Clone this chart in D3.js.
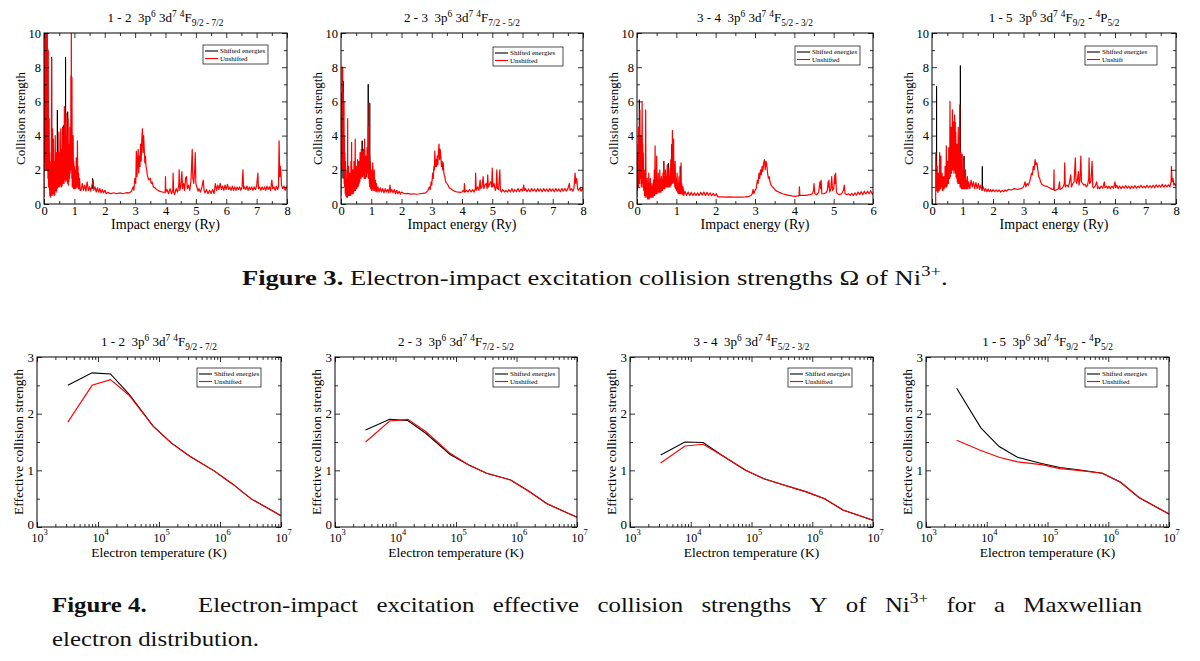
<!DOCTYPE html>
<html>
<head>
<meta charset="utf-8">
<script src="https://cdn.jsdelivr.net/npm/d3@7"></script>
<style>
  body { margin: 0; background: #fff; }
  svg { display: block; font-family: "Liberation Serif", "Times New Roman", serif; }
</style>
</head>
<body>
<svg id="svg" width="1200" height="661"></svg>
<script>
/* globals d3 */

// ---- Figure 3 : collision strength vs impact energy, [energy (Ry), omega] ----
// shifted series: only the parts that stand out from the unshifted curve (null = break)
var omega12Shifted = [[0.245,1],[0.25,8.6],[0.255,1],null,[0.435,1],[0.44,5.5],[0.445,1],null,[0.645,1.5],[0.65,4.6],[0.655,1.5],null,[0.705,1.5],[0.71,8.6],[0.715,1.5],null,[0.775,1.5],[0.78,5.4],[0.785,1.5],null,[1.595,0.9],[1.6,1.5],[1.605,0.9]];
var omega12Unshifted = [[0,0.4],[0.005,5],[0.01,2],[0.015,7],[0.02,3],[0.025,10],[0.03,2.5],[0.04,10],[0.045,4],[0.05,6],[0.055,2],[0.06,10],[0.07,3],[0.075,8],[0.08,2],[0.09,10],[0.095,3],[0.1,6],[0.105,2],[0.11,10],[0.12,2],[0.125,5],[0.13,1.5],[0.14,9],[0.15,1],[0.155,4],[0.16,1.2],[0.17,5],[0.18,0.8],[0.185,3],[0.19,0.5],[0.2,2.5],[0.21,0.4],[0.215,2],[0.22,0.6],[0.23,1.8],[0.24,0.5],[0.25,8.5],[0.26,0.8],[0.27,2.5],[0.275,0.6],[0.28,4.4],[0.29,0.5],[0.3,2],[0.305,0.6],[0.31,3.8],[0.32,0.7],[0.33,2.2],[0.34,0.6],[0.345,2.5],[0.35,0.5],[0.36,1.8],[0.37,4],[0.38,0.8],[0.39,2.2],[0.4,0.7],[0.41,3],[0.42,0.8],[0.43,2.5],[0.44,0.9],[0.45,3],[0.46,1],[0.47,2.5],[0.48,1],[0.49,4.2],[0.5,1],[0.51,2.5],[0.52,1],[0.53,3],[0.54,1.1],[0.55,4.4],[0.56,1.2],[0.57,2.8],[0.58,1],[0.59,3.2],[0.6,1.1],[0.61,4.5],[0.62,1.2],[0.63,2.8],[0.64,1.3],[0.65,3.5],[0.66,1.2],[0.67,5.7],[0.68,1.5],[0.69,3.5],[0.7,1.4],[0.71,4.8],[0.72,1.3],[0.73,5.3],[0.74,1.5],[0.75,3.2],[0.76,1.4],[0.77,4],[0.78,1.2],[0.79,5],[0.8,1.1],[0.81,3],[0.82,1.3],[0.83,3.5],[0.84,1.5],[0.85,4.5],[0.86,1.8],[0.87,3.5],[0.88,2],[0.885,7.5],[0.89,2],[0.9,10],[0.905,2],[0.91,6],[0.915,1.5],[0.92,7.4],[0.93,1],[0.94,3],[0.95,1],[0.96,4],[0.97,0.9],[0.98,2.5],[0.99,0.9],[1.0,2.2],[1.01,0.9],[1.02,2],[1.03,1],[1.04,1.8],[1.05,0.9],[1.06,2.7],[1.07,1],[1.08,2],[1.09,1],[1.1,3.7],[1.11,1],[1.12,2.2],[1.13,0.9],[1.14,1.8],[1.15,0.9],[1.17,1.5],[1.19,0.8],[1.22,0.8],[1.26,1.2],[1.3,0.8],[1.34,1.1],[1.38,0.75],[1.42,1.3],[1.46,0.8],[1.5,1.0],[1.54,0.75],[1.58,1.1],[1.62,1.4],[1.64,0.8],[1.68,1.0],[1.72,0.7],[1.76,0.95],[1.8,0.7],[1.84,0.9],[1.88,0.65],[1.92,0.85],[1.96,0.65],[2.0,0.8],[2.05,0.6],[2.1,0.68],[2.2,0.6],[2.3,0.66],[2.4,0.6],[2.5,0.65],[2.6,0.6],[2.7,0.66],[2.8,0.65],[2.88,0.75],[2.93,1.0],[2.96,0.8],[2.99,1.5],[3.02,1.2],[3.04,3.1],[3.06,1.6],[3.08,2.5],[3.1,3.2],[3.12,1.8],[3.14,2.8],[3.16,2.2],[3.18,3.5],[3.2,2.5],[3.22,3.8],[3.24,4.4],[3.26,3],[3.28,4.0],[3.3,3.2],[3.32,2.4],[3.34,2.8],[3.36,2.2],[3.38,2.0],[3.4,1.7],[3.43,1.5],[3.46,1.4],[3.5,1.5],[3.53,1.2],[3.56,1.3],[3.6,1.0],[3.65,0.95],[3.7,0.85],[3.75,0.8],[3.8,0.75],[3.85,0.72],[3.9,0.7],[3.95,0.68],[3.99,0.7],[4.0,1.6],[4.01,0.7],[4.05,0.85],[4.1,0.6],[4.15,0.9],[4.2,0.6],[4.24,0.8],[4.25,1.8],[4.27,0.7],[4.3,0.55],[4.35,0.9],[4.4,0.7],[4.44,1.2],[4.45,2.0],[4.47,0.8],[4.5,1.0],[4.54,1.9],[4.56,0.9],[4.6,1.2],[4.63,0.8],[4.66,1.5],[4.69,1.6],[4.72,0.9],[4.76,1.1],[4.8,0.8],[4.84,1.4],[4.88,3.2],[4.9,1.5],[4.93,1.2],[4.96,2.0],[4.98,3.0],[5.0,1.2],[5.03,1.0],[5.07,0.75],[5.1,0.9],[5.15,0.7],[5.2,1.0],[5.24,1.4],[5.27,0.8],[5.3,0.65],[5.35,0.85],[5.4,0.6],[5.45,0.8],[5.5,0.62],[5.55,0.85],[5.6,0.6],[5.64,1.2],[5.68,0.8],[5.72,1.1],[5.76,0.85],[5.8,1.2],[5.84,0.85],[5.88,1.05],[5.92,0.8],[5.96,1.1],[6.0,0.85],[6.04,1.15],[6.08,0.85],[6.12,1.0],[6.16,0.8],[6.2,1.05],[6.24,0.8],[6.28,1.0],[6.32,0.8],[6.36,1.0],[6.4,0.85],[6.44,1.0],[6.48,0.8],[6.52,1.0],[6.55,2.0],[6.57,0.9],[6.6,1.0],[6.64,0.85],[6.68,1.05],[6.72,0.8],[6.76,1.0],[6.8,0.85],[6.84,1.0],[6.88,0.8],[6.92,1.0],[6.96,0.85],[7.0,1.05],[7.04,1.8],[7.06,0.9],[7.1,1.0],[7.14,0.8],[7.18,1.0],[7.22,0.85],[7.26,1.0],[7.3,0.8],[7.34,1.05],[7.38,0.85],[7.42,1.0],[7.46,0.8],[7.5,1.4],[7.53,0.9],[7.57,1.0],[7.61,0.8],[7.65,1.05],[7.69,0.85],[7.72,1.0],[7.74,3.7],[7.76,1.6],[7.78,2.2],[7.8,1.8],[7.82,1.1],[7.86,0.9],[7.9,1.05],[7.94,0.8],[7.98,1.0],[8.0,0.9]];

var omega23Shifted = [[0.065,1.5],[0.07,7.2],[0.075,1.5],null,[0.695,1.6],[0.7,3.7],[0.705,1.6],null,[0.735,1.7],[0.74,3.2],[0.745,1.7],null,[0.895,1.8],[0.9,7.0],[0.905,1.5],null,[0.945,1.2],[0.95,5.9],[0.955,1.0]];
var omega23Unshifted = [[0,0.5],[0.005,4],[0.01,1.5],[0.015,6.5],[0.02,2],[0.025,5],[0.03,2.5],[0.035,8],[0.04,3],[0.045,6],[0.05,2],[0.055,8],[0.06,3],[0.065,5],[0.07,2.5],[0.075,6.5],[0.08,2],[0.085,5],[0.09,1.5],[0.1,6],[0.105,1.2],[0.11,4],[0.12,1],[0.13,3],[0.14,0.6],[0.15,2.5],[0.16,0.5],[0.17,2],[0.18,0.4],[0.19,1.5],[0.2,0.5],[0.21,1.2],[0.215,0.4],[0.22,5],[0.225,0.5],[0.23,1.5],[0.24,0.5],[0.25,2.2],[0.26,0.5],[0.27,1.5],[0.28,0.5],[0.29,1.8],[0.3,0.5],[0.31,1.4],[0.32,0.5],[0.33,2.5],[0.34,0.6],[0.35,3.6],[0.36,0.7],[0.37,1.6],[0.38,0.6],[0.39,2],[0.4,0.6],[0.41,1.5],[0.42,0.7],[0.43,2.5],[0.44,0.8],[0.45,1.8],[0.46,0.8],[0.47,3.8],[0.48,0.8],[0.49,1.8],[0.5,0.9],[0.51,2.2],[0.52,0.9],[0.53,1.8],[0.54,1.0],[0.55,2.6],[0.56,1.0],[0.57,2.0],[0.58,1.1],[0.59,2.5],[0.6,1.2],[0.61,2.2],[0.62,1.3],[0.63,3.0],[0.64,1.5],[0.65,2.5],[0.66,1.5],[0.67,3.2],[0.68,1.6],[0.69,2.8],[0.7,1.6],[0.71,3.1],[0.72,1.8],[0.73,2.7],[0.74,1.7],[0.75,3.2],[0.76,1.5],[0.77,2.6],[0.78,3.8],[0.79,1.5],[0.8,2.4],[0.81,1.5],[0.82,2.8],[0.83,1.6],[0.84,2.5],[0.85,1.6],[0.86,3.3],[0.87,2],[0.88,2.8],[0.89,1.8],[0.9,4.5],[0.91,1.5],[0.92,3],[0.93,5.9],[0.94,1.2],[0.95,2.8],[0.96,1.0],[0.97,2.5],[0.98,0.9],[0.99,1.6],[1.0,2.0],[1.01,0.8],[1.02,1.5],[1.03,0.8],[1.04,1.8],[1.05,2.4],[1.06,0.9],[1.07,1.5],[1.08,0.8],[1.09,1.6],[1.1,2.0],[1.11,0.8],[1.12,1.3],[1.13,0.8],[1.14,1.4],[1.15,0.75],[1.17,1.2],[1.19,0.7],[1.22,1.0],[1.26,0.7],[1.3,0.95],[1.34,0.7],[1.38,0.9],[1.42,0.65],[1.46,0.9],[1.5,0.7],[1.54,0.85],[1.58,0.65],[1.62,1.1],[1.64,0.7],[1.68,0.85],[1.72,0.65],[1.76,0.85],[1.8,0.6],[1.84,0.8],[1.88,0.6],[1.92,0.75],[1.96,0.58],[2.0,0.7],[2.1,0.6],[2.2,0.62],[2.3,0.58],[2.4,0.6],[2.5,0.57],[2.6,0.6],[2.7,0.62],[2.8,0.65],[2.88,0.8],[2.92,1.0],[2.95,0.85],[2.98,1.3],[3.0,1.1],[3.03,1.8],[3.05,1.5],[3.07,2.2],[3.09,2.0],[3.1,3.1],[3.12,2.2],[3.14,2.6],[3.16,2.2],[3.18,2.8],[3.2,2.3],[3.22,3.0],[3.24,3.5],[3.26,2.6],[3.28,3.2],[3.3,2.8],[3.32,2.2],[3.34,2.5],[3.36,2.0],[3.38,2.4],[3.4,1.8],[3.43,1.6],[3.46,1.3],[3.5,1.2],[3.54,1.1],[3.58,0.95],[3.62,0.9],[3.66,0.85],[3.7,0.8],[3.75,0.75],[3.8,0.72],[3.85,0.7],[3.9,0.7],[3.95,0.68],[4.0,0.7],[4.04,0.8],[4.07,0.7],[4.08,1.2],[4.1,0.7],[4.15,0.8],[4.2,0.7],[4.25,0.85],[4.3,0.7],[4.35,0.85],[4.4,0.7],[4.44,0.9],[4.45,1.8],[4.47,0.8],[4.52,1.0],[4.56,0.8],[4.6,1.4],[4.62,0.9],[4.66,1.0],[4.7,1.6],[4.72,0.9],[4.76,1.1],[4.8,1.2],[4.83,0.9],[4.85,1.7],[4.87,1.0],[4.92,1.2],[4.95,1.3],[4.98,1.0],[5.0,2.1],[5.02,1.0],[5.06,1.2],[5.1,0.8],[5.13,1.0],[5.15,2.0],[5.17,0.9],[5.21,0.85],[5.25,2.0],[5.27,0.8],[5.3,0.7],[5.35,0.85],[5.4,0.7],[5.45,0.8],[5.5,0.7],[5.55,0.85],[5.6,0.7],[5.65,0.9],[5.7,0.7],[5.75,0.85],[5.8,0.72],[5.85,0.9],[5.9,0.72],[5.95,0.88],[6.0,0.75],[6.04,1.1],[6.06,0.8],[6.1,0.9],[6.15,0.72],[6.2,0.88],[6.25,0.72],[6.3,0.9],[6.35,0.75],[6.4,0.88],[6.45,0.72],[6.5,0.9],[6.55,0.75],[6.6,0.88],[6.65,0.72],[6.7,0.9],[6.75,0.75],[6.8,0.88],[6.85,0.72],[6.9,0.9],[6.95,0.75],[7.0,0.88],[7.05,0.72],[7.1,0.9],[7.15,0.75],[7.2,0.88],[7.25,0.72],[7.3,0.9],[7.35,0.75],[7.4,0.9],[7.45,0.75],[7.5,0.9],[7.55,1.2],[7.57,0.8],[7.62,0.9],[7.66,0.75],[7.7,0.9],[7.74,1.8],[7.76,1.2],[7.78,1.5],[7.8,1.4],[7.82,0.9],[7.86,0.8],[7.9,0.95],[7.94,0.75],[7.98,0.9],[8.0,0.85]];

var omega34Shifted = [[0.055,1.5],[0.06,6.1],[0.065,1.5],null,[0.675,0.9],[0.68,2.5],[0.685,0.9],null,[0.795,1.0],[0.8,2.4],[0.805,1.0],null,[0.885,1.2],[0.89,3.5],[0.895,1.2],null,[1.095,0.8],[1.1,2.2],[1.105,0.8]];
var omega34Unshifted = [[0,0.4],[0.005,2],[0.01,0.8],[0.015,3],[0.02,1],[0.025,3.5],[0.03,1.2],[0.035,4.5],[0.04,1],[0.045,3],[0.05,1.5],[0.055,4.5],[0.06,1.5],[0.065,3.5],[0.07,1.2],[0.075,5.5],[0.08,2],[0.085,4],[0.09,1.5],[0.095,3.5],[0.1,1.5],[0.105,4],[0.11,1],[0.115,3.5],[0.12,1.2],[0.13,6.0],[0.14,2],[0.145,3.5],[0.15,1],[0.16,3],[0.17,0.8],[0.18,2],[0.19,0.5],[0.2,1.5],[0.21,0.4],[0.22,5.5],[0.23,0.5],[0.24,1.2],[0.25,0.4],[0.26,1.5],[0.27,0.3],[0.28,1.2],[0.29,0.3],[0.3,1.8],[0.31,0.3],[0.32,1.2],[0.33,0.4],[0.34,1.5],[0.35,0.4],[0.36,1.0],[0.37,0.4],[0.38,1.2],[0.39,0.4],[0.4,1.0],[0.41,0.4],[0.42,1.4],[0.43,0.5],[0.44,2],[0.45,0.5],[0.46,3.4],[0.47,0.6],[0.48,1.5],[0.49,0.6],[0.5,2.8],[0.51,0.6],[0.52,1.4],[0.53,0.7],[0.54,1.8],[0.55,0.7],[0.56,1.3],[0.57,0.7],[0.58,2],[0.59,0.7],[0.6,1.4],[0.61,0.7],[0.62,1.6],[0.63,0.8],[0.64,1.4],[0.65,0.8],[0.66,1.8],[0.67,0.9],[0.68,2.5],[0.69,0.9],[0.7,1.6],[0.71,0.9],[0.72,2.0],[0.73,1.0],[0.74,1.6],[0.75,1.0],[0.76,1.8],[0.77,2.3],[0.78,1.0],[0.79,1.7],[0.8,1.0],[0.81,2.1],[0.82,1.0],[0.83,1.6],[0.84,1.0],[0.85,1.8],[0.86,2.6],[0.87,1.1],[0.88,2],[0.89,1.2],[0.9,4.3],[0.91,1.3],[0.92,3],[0.93,3.8],[0.94,1.2],[0.95,2.2],[0.96,1.0],[0.97,2.5],[0.98,0.9],[0.99,1.5],[1.0,0.8],[1.01,1.4],[1.02,1.8],[1.03,0.7],[1.04,1.2],[1.05,0.6],[1.06,1.3],[1.07,1.6],[1.08,0.6],[1.09,1.2],[1.1,0.6],[1.11,1.5],[1.12,2.4],[1.13,0.6],[1.14,1.2],[1.15,0.55],[1.17,1.0],[1.19,0.5],[1.22,0.75],[1.26,0.5],[1.3,0.7],[1.34,0.5],[1.38,0.68],[1.42,0.5],[1.46,0.65],[1.5,0.5],[1.54,0.65],[1.58,0.5],[1.62,0.68],[1.66,0.52],[1.7,0.7],[1.74,0.5],[1.78,0.68],[1.82,0.5],[1.86,0.65],[1.9,0.48],[1.94,0.62],[1.98,0.48],[2.02,0.6],[2.05,0.42],[2.15,0.42],[2.25,0.4],[2.35,0.42],[2.45,0.4],[2.55,0.41],[2.65,0.4],[2.75,0.42],[2.85,0.45],[2.9,0.5],[2.93,0.6],[2.95,0.85],[2.97,0.6],[3.0,0.8],[3.03,0.9],[3.06,1.4],[3.08,1.2],[3.1,1.8],[3.12,1.5],[3.14,2.0],[3.16,1.7],[3.18,2.2],[3.2,1.9],[3.22,2.4],[3.24,2.6],[3.26,2.0],[3.28,2.5],[3.3,2.3],[3.32,1.8],[3.34,1.5],[3.36,1.6],[3.38,1.3],[3.41,1.1],[3.44,1.0],[3.47,0.95],[3.5,0.85],[3.55,0.75],[3.6,0.7],[3.65,0.65],[3.7,0.6],[3.78,0.55],[3.86,0.5],[3.94,0.47],[4.02,0.45],[4.1,0.47],[4.12,0.5],[4.13,1.0],[4.14,0.5],[4.2,0.5],[4.3,0.5],[4.4,0.55],[4.46,0.6],[4.49,0.8],[4.5,1.2],[4.52,0.6],[4.57,0.55],[4.62,0.7],[4.65,1.3],[4.67,0.9],[4.68,1.4],[4.7,0.6],[4.75,0.6],[4.8,0.65],[4.84,0.8],[4.86,1.3],[4.87,1.0],[4.88,1.4],[4.9,0.7],[4.93,0.9],[4.95,1.6],[4.97,0.8],[5.0,0.9],[5.03,1.7],[5.04,1.2],[5.05,1.8],[5.07,0.7],[5.1,0.6],[5.15,0.55],[5.2,0.6],[5.25,0.8],[5.27,1.1],[5.29,0.6],[5.33,0.55],[5.38,0.6],[5.42,0.5],[5.46,0.62],[5.5,0.5],[5.54,0.65],[5.58,0.52],[5.62,0.7],[5.66,0.55],[5.7,0.72],[5.74,0.55],[5.78,0.75],[5.82,0.58],[5.86,0.75],[5.9,0.6],[5.94,0.78],[5.98,0.58],[6.0,0.65]];

var omega15Shifted = [[0.145,0.8],[0.15,6.9],[0.155,0.8],null,[0.745,2],[0.75,4.8],[0.755,2],null,[0.925,1.2],[0.93,8.1],[0.935,1.2],null,[1.045,1.0],[1.05,2.8],[1.055,1.0],null,[1.645,0.8],[1.65,2.2],[1.655,0.8]];
var omega15Unshifted = [[0.12,0],[0.122,3],[0.125,1],[0.13,2.5],[0.135,0.8],[0.14,2],[0.145,0.8],[0.15,1.5],[0.16,0.8],[0.17,2.2],[0.18,0.7],[0.19,1.5],[0.2,0.7],[0.21,1.8],[0.22,0.8],[0.23,1.5],[0.24,0.8],[0.25,3.0],[0.26,0.9],[0.27,1.6],[0.28,0.9],[0.29,2.8],[0.3,1],[0.31,1.5],[0.32,1],[0.33,1.8],[0.34,0.8],[0.35,1.4],[0.36,0.8],[0.37,1.6],[0.38,0.9],[0.39,1.3],[0.4,0.9],[0.41,1.6],[0.42,1.0],[0.43,2.2],[0.44,1.0],[0.45,1.8],[0.46,1.0],[0.47,3.4],[0.48,1.0],[0.49,2.0],[0.5,1.1],[0.51,2.5],[0.52,1.2],[0.53,2.2],[0.54,1.2],[0.55,3.3],[0.56,1.5],[0.57,2.8],[0.58,1.5],[0.59,6.0],[0.6,1.6],[0.61,3.5],[0.62,1.8],[0.63,4.5],[0.64,1.8],[0.65,3.8],[0.66,2],[0.67,5.5],[0.68,2],[0.69,4.0],[0.7,2.0],[0.71,4.8],[0.72,1.8],[0.73,3.8],[0.74,5.2],[0.75,2],[0.76,3.5],[0.77,1.8],[0.78,4.2],[0.79,1.6],[0.8,3.0],[0.81,1.5],[0.82,3.5],[0.83,1.3],[0.84,2.8],[0.85,1.2],[0.86,4.5],[0.87,1.2],[0.88,2.5],[0.89,1.2],[0.9,3.5],[0.91,5.8],[0.92,1.0],[0.93,2.5],[0.94,1.0],[0.95,3],[0.96,0.9],[0.97,2.0],[0.98,0.9],[0.99,2.9],[1.0,0.9],[1.01,1.8],[1.02,0.9],[1.03,1.6],[1.04,2.5],[1.05,0.9],[1.06,1.5],[1.07,0.9],[1.08,1.4],[1.09,0.9],[1.1,2.0],[1.11,0.9],[1.12,1.4],[1.14,0.9],[1.16,1.6],[1.18,0.9],[1.2,1.3],[1.24,0.9],[1.28,1.4],[1.32,1.0],[1.36,1.3],[1.4,0.9],[1.44,1.25],[1.48,0.9],[1.52,1.2],[1.56,0.85],[1.6,1.1],[1.64,0.8],[1.68,1.0],[1.72,0.75],[1.76,0.9],[1.8,0.72],[1.84,0.88],[1.88,0.72],[1.92,0.85],[1.96,0.72],[2.0,0.85],[2.05,0.72],[2.1,0.82],[2.15,0.72],[2.2,0.82],[2.25,0.7],[2.3,0.8],[2.35,0.72],[2.4,0.82],[2.45,0.75],[2.5,0.85],[2.6,0.82],[2.7,0.9],[2.8,0.85],[2.9,0.9],[2.98,0.95],[3.02,1.1],[3.05,1.3],[3.08,1.0],[3.12,1.2],[3.16,1.1],[3.2,1.3],[3.23,1.5],[3.26,1.8],[3.29,1.7],[3.32,2.2],[3.35,2.0],[3.38,2.6],[3.41,2.3],[3.44,2.4],[3.47,2.0],[3.5,1.6],[3.53,1.5],[3.56,1.3],[3.6,1.15],[3.65,1.1],[3.7,1.05],[3.75,1.05],[3.8,1.0],[3.85,0.95],[3.9,0.9],[3.95,0.85],[3.99,0.85],[4.0,2.0],[4.01,0.8],[4.05,0.8],[4.1,0.85],[4.15,0.9],[4.18,1.3],[4.2,0.85],[4.25,0.9],[4.3,1.0],[4.34,1.2],[4.35,2.4],[4.37,1.0],[4.42,1.1],[4.47,1.0],[4.5,1.2],[4.55,1.7],[4.57,1.0],[4.62,1.2],[4.66,1.3],[4.7,2.7],[4.72,1.3],[4.75,1.2],[4.8,1.9],[4.82,1.1],[4.85,1.4],[4.88,2.8],[4.9,1.3],[4.94,1.2],[4.98,1.1],[5.02,1.15],[5.06,1.0],[5.1,1.1],[5.14,1.5],[5.15,2.7],[5.17,1.2],[5.21,1.3],[5.25,2.5],[5.27,1.0],[5.3,0.95],[5.35,1.05],[5.4,1.3],[5.43,0.9],[5.47,1.0],[5.5,0.9],[5.55,1.05],[5.6,0.92],[5.65,1.3],[5.67,0.95],[5.72,1.05],[5.76,0.9],[5.8,1.05],[5.85,0.9],[5.9,1.05],[5.95,0.92],[6.0,1.3],[6.02,0.95],[6.06,1.1],[6.1,0.9],[6.15,1.05],[6.2,0.9],[6.25,1.05],[6.3,0.92],[6.35,1.08],[6.4,0.92],[6.45,1.05],[6.5,0.9],[6.55,1.05],[6.6,0.92],[6.65,1.08],[6.7,0.92],[6.75,1.05],[6.8,0.95],[6.85,1.1],[6.9,0.95],[6.95,1.05],[7.0,0.95],[7.05,1.1],[7.1,0.95],[7.15,1.08],[7.2,0.95],[7.25,1.1],[7.3,0.95],[7.35,1.12],[7.4,0.98],[7.45,1.1],[7.5,0.98],[7.55,1.15],[7.6,0.98],[7.65,1.12],[7.7,1.0],[7.75,1.12],[7.8,1.0],[7.84,1.3],[7.85,2.2],[7.87,1.3],[7.9,1.5],[7.93,1.1],[7.96,1.2],[8.0,1.05]];

// ---- Figure 4 : effective collision strength vs electron temperature ----
var temperatures = [3.2e3, 8e3, 1.6e4, 3.2e4, 8e4, 1.6e5, 3.2e5, 8e5, 1.6e6, 3.2e6, 1e7];
var ups12Shifted   = [2.50, 2.72, 2.70, 2.35, 1.78, 1.48, 1.25, 0.99, 0.76, 0.50, 0.20];
var ups12Unshifted = [1.85, 2.50, 2.60, 2.33, 1.78, 1.48, 1.25, 0.99, 0.76, 0.50, 0.20];
var ups23Shifted   = [1.71, 1.90, 1.88, 1.65, 1.28, 1.10, 0.95, 0.83, 0.63, 0.41, 0.17];
var ups23Unshifted = [1.50, 1.87, 1.90, 1.68, 1.30, 1.10, 0.95, 0.83, 0.63, 0.41, 0.17];
var ups34Shifted   = [1.27, 1.50, 1.49, 1.27, 1.00, 0.85, 0.75, 0.62, 0.50, 0.30, 0.12];
var ups34Unshifted = [1.13, 1.43, 1.46, 1.27, 1.00, 0.85, 0.75, 0.62, 0.50, 0.30, 0.12];
var ups15Shifted   = [2.45, 1.75, 1.42, 1.23, 1.12, 1.05, 1.01, 0.95, 0.79, 0.52, 0.23];
var ups15Unshifted = [1.53, 1.35, 1.23, 1.15, 1.10, 1.03, 1.00, 0.95, 0.79, 0.52, 0.23];

var energyTicks = [0, 1, 2, 3, 4, 5, 6, 7, 8];
var omegaTicks = [0, 2, 4, 6, 8, 10];
var tempTicks = [1e3, 1e4, 1e5, 1e6, 1e7];
var upsTicks = [0, 1, 2, 3];

// title pieces: [text, 0 normal | 1 superscript | -1 subscript]
var title12 = [['1 - 2  3p',0],['6',1],[' 3d',0],['7',1],[' ',0],['4',1],['F',0],['9/2 - 7/2',-1]];
var title23 = [['2 - 3  3p',0],['6',1],[' 3d',0],['7',1],[' ',0],['4',1],['F',0],['7/2 - 5/2',-1]];
var title34 = [['3 - 4  3p',0],['6',1],[' 3d',0],['7',1],[' ',0],['4',1],['F',0],['5/2 - 3/2',-1]];
var title15 = [['1 - 5  3p',0],['6',1],[' 3d',0],['7',1],[' ',0],['4',1],['F',0],['9/2',-1],[' - ',0],['4',1],['P',0],['5/2',-1]];

var FONT = '"Liberation Serif", "Times New Roman", serif';
var svg = d3.select('svg');
svg.append('rect').attr('width', 1200).attr('height', 661).attr('fill', '#fff');

var topPanels = [
  { left: 44,  right: 287, xmax: 8, shifted: omega12Shifted, unshifted: omega12Unshifted, title: title12, leg: [203, 45, 65], legText: 'Unshifted' },
  { left: 341, right: 583, xmax: 8, shifted: omega23Shifted, unshifted: omega23Unshifted, title: title23, leg: [493, 47, 70], legText: 'Unshifted' },
  { left: 637, right: 873, xmax: 6, shifted: omega34Shifted, unshifted: omega34Unshifted, title: title34, leg: [795, 46, 65], legText: 'Unshifted' },
  { left: 932, right: 1176, xmax: 8, shifted: omega15Shifted, unshifted: omega15Unshifted, title: title15, leg: [1085, 46, 72], legText: 'Unshift' }
];

var bottomPanels = [
  { left: 37,  right: 281, shifted: ups12Shifted, unshifted: ups12Unshifted, title: title12, leg: [197, 368, 64] },
  { left: 335, right: 577, shifted: ups23Shifted, unshifted: ups23Unshifted, title: title23, leg: [493, 368, 66] },
  { left: 630, right: 873, shifted: ups34Shifted, unshifted: ups34Unshifted, title: title34, leg: [788, 368, 64] },
  { left: 926, right: 1169, shifted: ups15Shifted, unshifted: ups15Unshifted, title: title15, leg: [1085, 368, 72] }
];

function richText(sel, parts, x, y, size, anchor) {
  var t = sel.append('text')
    .attr('x', x).attr('y', y)
    .attr('text-anchor', anchor || 'middle')
    .attr('font-size', size)
    .style('white-space', 'pre');
  var cur = 0;
  parts.forEach(function(p) {
    var off = p[1] === 1 ? -0.42 * size : (p[1] === -1 ? 0.3 * size : 0);
    t.append('tspan')
      .attr('dy', off - cur)
      .attr('font-size', p[1] === 0 ? size : size * 0.72)
      .text(p[0]);
    cur = off;
  });
  return t;
}

function styleAxis(g, size, keepText) {
  g.attr('font-family', FONT).attr('font-size', size);
  g.select('.domain').remove();
  g.selectAll('line').attr('stroke', '#000').attr('stroke-width', 0.8);
  if (keepText) {
    g.selectAll('text').attr('fill', '#000');
  } else {
    g.selectAll('text').remove();
  }
}

function legend(g, leg, label2) {
  var x = leg[0], y = leg[1], w = leg[2], h = 19;
  g.append('rect').attr('x', x).attr('y', y).attr('width', w).attr('height', h)
    .attr('fill', '#fff').attr('stroke', '#000').attr('stroke-width', 0.7);
  [['Shifted energies', '#000'], [label2, '#f00']].forEach(function(r, i) {
    var ly = y + 6 + i * 7.5;
    g.append('line').attr('x1', x + 2).attr('x2', x + 15).attr('y1', ly).attr('y2', ly)
      .attr('stroke', r[1]).attr('stroke-width', 1.1);
    g.append('text').attr('x', x + 17).attr('y', ly + 2.2).attr('font-size', 7).text(r[0]);
  });
}

/* TOP ROW */
var topY0 = 204, topY1 = 33;
topPanels.forEach(function(p, i) {
  var g = svg.append('g');
  var x = d3.scaleLinear().domain([0, p.xmax]).range([p.left, p.right]);
  var y = d3.scaleLinear().domain([0, 10]).range([topY0, topY1]);
  var majorX = energyTicks.filter(function(v) { return v <= p.xmax; });
  var minorX = d3.range(0.5, p.xmax, 1);
  var minorY = [1, 3, 5, 7, 9];

  var clipId = 'clipTop' + i;
  g.append('clipPath').attr('id', clipId).append('rect')
    .attr('x', p.left).attr('y', topY1).attr('width', p.right - p.left).attr('height', topY0 - topY1);

  var line = d3.line()
    .defined(function(d) { return d !== null; })
    .x(function(d) { return x(d[0]); })
    .y(function(d) { return y(d[1]); });
  var data = g.append('g').attr('clip-path', 'url(#' + clipId + ')');
  data.append('path').attr('d', line(p.shifted)).attr('fill', 'none').attr('stroke', '#000').attr('stroke-width', 1);
  data.append('path').attr('d', line(p.unshifted)).attr('fill', 'none').attr('stroke', '#f00')
    .attr('stroke-width', 1.2).attr('stroke-linejoin', 'round');

  var ax;
  ax = g.append('g').attr('transform', 'translate(0,' + topY0 + ')')
    .call(d3.axisBottom(x).tickValues(majorX).tickFormat(d3.format('d')).tickSizeInner(-5).tickSizeOuter(0).tickPadding(2));
  styleAxis(ax, 12.5, true);
  ax = g.append('g').attr('transform', 'translate(0,' + topY0 + ')')
    .call(d3.axisBottom(x).tickValues(minorX).tickSizeInner(-3).tickSizeOuter(0));
  styleAxis(ax, 12.5);
  ax = g.append('g').attr('transform', 'translate(0,' + topY1 + ')')
    .call(d3.axisTop(x).tickValues(majorX).tickSizeInner(-5).tickSizeOuter(0));
  styleAxis(ax, 12.5);
  ax = g.append('g').attr('transform', 'translate(0,' + topY1 + ')')
    .call(d3.axisTop(x).tickValues(minorX).tickSizeInner(-3).tickSizeOuter(0));
  styleAxis(ax, 12.5);
  ax = g.append('g').attr('transform', 'translate(' + p.left + ',0)')
    .call(d3.axisLeft(y).tickValues(omegaTicks).tickFormat(d3.format('d')).tickSizeInner(-5).tickSizeOuter(0).tickPadding(3));
  styleAxis(ax, 12.5, true);
  ax = g.append('g').attr('transform', 'translate(' + p.left + ',0)')
    .call(d3.axisLeft(y).tickValues(minorY).tickSizeInner(-3).tickSizeOuter(0));
  styleAxis(ax, 12.5);
  ax = g.append('g').attr('transform', 'translate(' + p.right + ',0)')
    .call(d3.axisRight(y).tickValues(omegaTicks).tickSizeInner(-5).tickSizeOuter(0));
  styleAxis(ax, 12.5);
  ax = g.append('g').attr('transform', 'translate(' + p.right + ',0)')
    .call(d3.axisRight(y).tickValues(minorY).tickSizeInner(-3).tickSizeOuter(0));
  styleAxis(ax, 12.5);

  g.append('rect').attr('x', p.left).attr('y', topY1).attr('width', p.right - p.left).attr('height', topY0 - topY1)
    .attr('fill', 'none').attr('stroke', '#000').attr('stroke-width', 1);

  legend(g, p.leg, p.legText);
  richText(g, p.title, (p.left + p.right) / 2, 22, 13);
  g.append('text').attr('x', (p.left + p.right) / 2).attr('y', 229).attr('text-anchor', 'middle')
    .attr('font-size', 14).text('Impact energy (Ry)');
  g.append('text').attr('transform', 'translate(' + (p.left - 24) + ',' + ((topY0 + topY1) / 2) + ') rotate(-90)')
    .attr('text-anchor', 'middle').attr('dy', '0.35em').attr('font-size', 13).text('Collision strength');
});

/* BOTTOM ROW */
var botY0 = 527, botY1 = 357;
bottomPanels.forEach(function(p) {
  var g = svg.append('g');
  var x = d3.scaleLog().domain([1e3, 1e7]).range([p.left, p.right]);
  var y = d3.scaleLinear().domain([0, 3]).range([botY0, botY1]);
  var minorX = [];
  [1e3, 1e4, 1e5, 1e6].forEach(function(dec) {
    for (var k = 2; k <= 9; k++) minorX.push(dec * k);
  });
  var minorY = [0.5, 1.5, 2.5];

  var line = d3.line().x(function(d, j) { return x(temperatures[j]); }).y(function(d) { return y(d); });
  g.append('path').attr('d', line(p.shifted)).attr('fill', 'none').attr('stroke', '#000').attr('stroke-width', 1.1);
  g.append('path').attr('d', line(p.unshifted)).attr('fill', 'none').attr('stroke', '#f00').attr('stroke-width', 1.1);

  var ax;
  ax = g.append('g').attr('transform', 'translate(0,' + botY0 + ')')
    .call(d3.axisBottom(x).tickValues(tempTicks).tickSizeInner(-5).tickSizeOuter(0));
  styleAxis(ax, 12);
  ax.selectAll('.tick').each(function(d) {
    var t = d3.select(this);
    t.append('text').attr('x', 0).attr('y', 15).attr('text-anchor', 'middle').attr('fill', '#000').text('10');
    t.append('text').attr('x', 6).attr('y', 8).attr('text-anchor', 'start').attr('fill', '#000')
      .attr('font-size', 8.5).text(Math.round(Math.log10(d)));
  });
  ax = g.append('g').attr('transform', 'translate(0,' + botY0 + ')')
    .call(d3.axisBottom(x).tickValues(minorX).tickSizeInner(-3).tickSizeOuter(0));
  styleAxis(ax, 12);
  ax = g.append('g').attr('transform', 'translate(0,' + botY1 + ')')
    .call(d3.axisTop(x).tickValues(tempTicks).tickSizeInner(-5).tickSizeOuter(0));
  styleAxis(ax, 12);
  ax = g.append('g').attr('transform', 'translate(0,' + botY1 + ')')
    .call(d3.axisTop(x).tickValues(minorX).tickSizeInner(-3).tickSizeOuter(0));
  styleAxis(ax, 12);
  ax = g.append('g').attr('transform', 'translate(' + p.left + ',0)')
    .call(d3.axisLeft(y).tickValues(upsTicks).tickFormat(d3.format('d')).tickSizeInner(-5).tickSizeOuter(0).tickPadding(3));
  styleAxis(ax, 13, true);
  ax.selectAll('.tick text').filter(function(d) { return d === 0; }).attr('dy', '0.1em');
  ax = g.append('g').attr('transform', 'translate(' + p.left + ',0)')
    .call(d3.axisLeft(y).tickValues(minorY).tickSizeInner(-3).tickSizeOuter(0));
  styleAxis(ax, 13);
  ax = g.append('g').attr('transform', 'translate(' + p.right + ',0)')
    .call(d3.axisRight(y).tickValues(upsTicks).tickSizeInner(-5).tickSizeOuter(0));
  styleAxis(ax, 13);
  ax = g.append('g').attr('transform', 'translate(' + p.right + ',0)')
    .call(d3.axisRight(y).tickValues(minorY).tickSizeInner(-3).tickSizeOuter(0));
  styleAxis(ax, 13);

  g.append('rect').attr('x', p.left).attr('y', botY1).attr('width', p.right - p.left).attr('height', botY0 - botY1)
    .attr('fill', 'none').attr('stroke', '#000').attr('stroke-width', 1);

  legend(g, p.leg, 'Unshifted');
  richText(g, p.title, (p.left + p.right) / 2, 346, 13);
  g.append('text').attr('x', (p.left + p.right) / 2).attr('y', 557).attr('text-anchor', 'middle')
    .attr('font-size', 13.5).text('Electron temperature (K)');
  g.append('text').attr('transform', 'translate(' + (p.left - 19) + ',' + ((botY0 + botY1) / 2) + ') rotate(-90)')
    .attr('text-anchor', 'middle').attr('dy', '0.35em').attr('font-size', 13.5).text('Effective collision strength');
});

/* CAPTIONS */
function captionWord(sel, parts, size) {
  var t = sel.append('text').attr('font-size', size).style('white-space', 'pre').attr('fill', '#111');
  var cur = 0;
  parts.forEach(function(p) {
    var off = p[1] === 1 ? -0.4 * size : 0;
    var ts = t.append('tspan').attr('dy', off - cur).attr('font-size', p[1] === 1 ? size * 0.7 : size).text(p[0]);
    if (p[2]) ts.attr('font-weight', 'bold');
    cur = off;
  });
  return t;
}

var capSize = 22;
// Figure 3 caption, stretched to its width in the page
var cap3 = captionWord(svg, [['Figure 3.', 0, true], [' Electron-impact excitation collision strengths \u03A9 of Ni', 0], ['3+', 1], ['.', 0]], capSize);
var w3 = cap3.node().getComputedTextLength();
cap3.attr('transform', 'translate(242,285) scale(' + (706 / w3) + ',1)');

// Figure 4 caption, justified first line
var line2 = captionWord(svg, [['electron distribution.', 0]], capSize);
var sx = 207 / line2.node().getComputedTextLength();
line2.attr('transform', 'translate(52,646) scale(' + sx + ',1)');

var words4 = [
  [['Figure 4.', 0, true]], [['Electron-impact', 0]], [['excitation', 0]], [['effective', 0]],
  [['collision', 0]], [['strengths', 0]], [['Y', 0]], [['of', 0]], [['Ni', 0], ['3+', 1]],
  [['for', 0]], [['a', 0]], [['Maxwellian', 0]]
];
var nodes = words4.map(function(w) { return captionWord(svg, w, capSize); });
var widths = nodes.map(function(n) { return n.node().getComputedTextLength() * sx; });
var restW = d3.sum(widths.slice(1));
var gap = (1142 - 198 - restW) / (widths.length - 2);
var cx = 198;
nodes[0].attr('transform', 'translate(52,612) scale(' + sx + ',1)');
nodes.slice(1).forEach(function(n, k) {
  n.attr('transform', 'translate(' + cx + ',612) scale(' + sx + ',1)');
  cx += widths[k + 1] + gap;
});
</script>
</body>
</html>
